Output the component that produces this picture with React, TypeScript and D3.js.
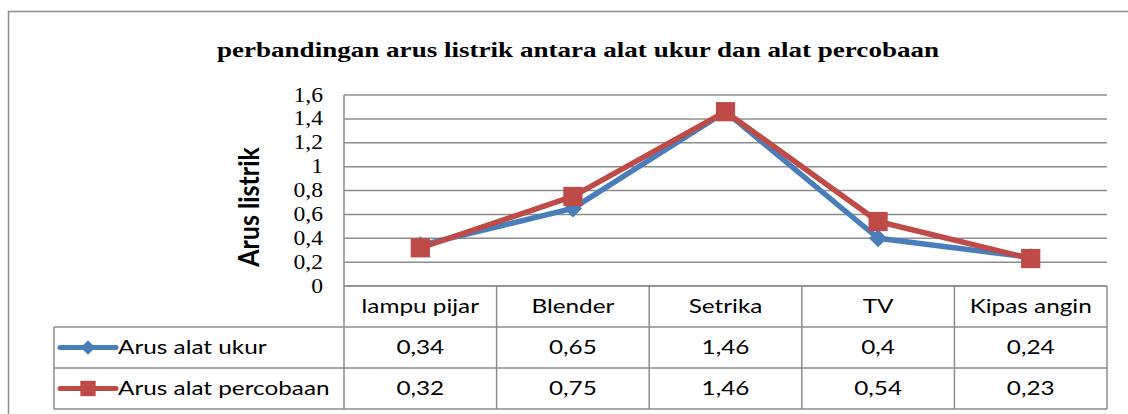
import React from 'react';
import * as d3 from 'd3';

const categories = ['lampu pijar', 'Blender', 'Setrika', 'TV', 'Kipas angin'];
const seriesNames = ['Arus alat ukur', 'Arus alat percobaan'];
const arusAlatUkur = [0.34, 0.65, 1.46, 0.4, 0.24];
const arusAlatPercobaan = [0.32, 0.75, 1.46, 0.54, 0.23];
const yTicks = [0, 0.2, 0.4, 0.6, 0.8, 1, 1.2, 1.4, 1.6];
const colors = ['#4a7ebb', '#be4b48'];

const title = 'perbandingan arus listrik antara alat ukur dan alat percobaan';
const yTitle = 'Arus listrik';

const W = 1128;
const H = 414;
const plot = { left: 344, right: 1107, top: 95, bottom: 286 };
const rowH = 41;
const legendLeft = 54;

const locale = d3.formatLocale({ decimal: ',', thousands: '.', grouping: [3], currency: ['', ''] });
const fmt = locale.format('~g');

const sansFont = 'Lato, "Open Sans", sans-serif';
const serifFont = '"Liberation Serif", "DejaVu Serif", serif';
const gridColor = '#8c8c8c';

// the original picture is stretched sideways, so text gets a horizontal scale
function T({ x, y, sx = 1.28, anchor = 'start', size = 19, family = sansFont, weight = 'normal', dy = '0.36em', children }: any) {
  return (
    <g transform={`translate(${x},${y}) scale(${sx},1)`}>
      <text dy={dy} textAnchor={anchor} fontFamily={family} fontWeight={weight} fontSize={size} fill="#000">
        {children}
      </text>
    </g>
  );
}

function App() {
  const x = d3.scaleBand<string>().domain(categories).range([plot.left, plot.right]);
  const y = d3.scaleLinear().domain([0, 1.6]).range([plot.bottom, plot.top]);
  const cx = (c: string) => (x(c) as number) + x.bandwidth() / 2;

  const series = [arusAlatUkur, arusAlatPercobaan];
  const line = d3
    .line<number>()
    .x((d, i) => cx(categories[i]))
    .y(d => y(d));

  const diamond = d3.symbol(d3.symbolDiamond2, 210);
  const square = d3.symbol(d3.symbolSquare, 370);

  const rows = [plot.bottom, plot.bottom + rowH, plot.bottom + rowH * 2, plot.bottom + rowH * 3];

  const marker = (i: number, px: number, py: number, scale = 1, key?: string) =>
    i === 0 ? (
      <path key={key} d={diamond()} transform={`translate(${px},${py}) scale(${scale})`} fill={colors[0]} />
    ) : (
      <path key={key} d={square()} transform={`translate(${px},${py}) scale(${scale})`} fill={colors[1]} />
    );

  return (
    <svg width={W} height={H} style={{ position: 'absolute', left: 0, top: 0, background: '#fff' }}>
      <rect x={8.5} y={11.5} width={W} height={H} fill="#fff" stroke="#8c8c8c" strokeWidth={1.5} />

      <T x={578} y={57} anchor="middle" family={serifFont} weight="bold" size={22} sx={1.23} dy={0}>
        {title}
      </T>

      {/* gridlines */}
      {yTicks.map(t => (
        <line key={t} x1={plot.left} x2={plot.right} y1={y(t)} y2={y(t)} stroke={gridColor} strokeWidth={1.5} />
      ))}
      <line x1={plot.left} x2={plot.left} y1={plot.top} y2={plot.bottom} stroke={gridColor} strokeWidth={1.5} />

      {/* y tick labels */}
      {yTicks.map(t => (
        <T key={t} x={323} y={y(t)} anchor="end" family={serifFont} size={20} sx={1.18} dy="0.33em">
          {fmt(t)}
        </T>
      ))}

      <g transform={`translate(249, 207) scale(1.12,1) rotate(-90)`}>
        <text textAnchor="middle" fontFamily={sansFont} fontWeight="bold" fontSize={25} dy="0.36em">
          {yTitle}
        </text>
      </g>

      {/* data table */}
      <g stroke={gridColor} strokeWidth={1.5} fill="none">
        <line x1={plot.left} x2={plot.right} y1={rows[0]} y2={rows[0]} />
        <line x1={legendLeft} x2={plot.right} y1={rows[1]} y2={rows[1]} />
        <line x1={legendLeft} x2={plot.right} y1={rows[2]} y2={rows[2]} />
        <line x1={legendLeft} x2={plot.right} y1={rows[3]} y2={rows[3]} />
        <line x1={legendLeft} x2={legendLeft} y1={rows[1]} y2={rows[3]} />
        {categories.map(c => (
          <line key={c} x1={x(c)} x2={x(c)} y1={rows[0]} y2={rows[3]} />
        ))}
        <line x1={plot.right} x2={plot.right} y1={rows[0]} y2={rows[3]} />
      </g>

      {categories.map(c => (
        <T key={c} x={cx(c)} y={rows[0] + rowH / 2} anchor="middle">
          {c}
        </T>
      ))}

      {series.map((vals, si) => (
        <g key={si}>
          <line x1={60} x2={116} y1={rows[si + 1] + rowH / 2} y2={rows[si + 1] + rowH / 2} stroke={colors[si]} strokeWidth={5} strokeLinecap="round" />
          {marker(si, 88, rows[si + 1] + rowH / 2, 0.8)}
          <T x={118} y={rows[si + 1] + rowH / 2}>
            {seriesNames[si]}
          </T>
          {vals.map((v, i) => (
            <T key={i} x={cx(categories[i])} y={rows[si + 1] + rowH / 2} anchor="middle">
              {fmt(v)}
            </T>
          ))}
        </g>
      ))}

      {/* lines */}
      {series.map((vals, si) => (
        <g key={si}>
          <path d={line(vals) as string} fill="none" stroke={colors[si]} strokeWidth={5.5} strokeLinejoin="round" />
          {vals.map((v, i) => marker(si, cx(categories[i]), y(v), 1, String(i)))}
        </g>
      ))}
    </svg>
  );
}

export default App;
